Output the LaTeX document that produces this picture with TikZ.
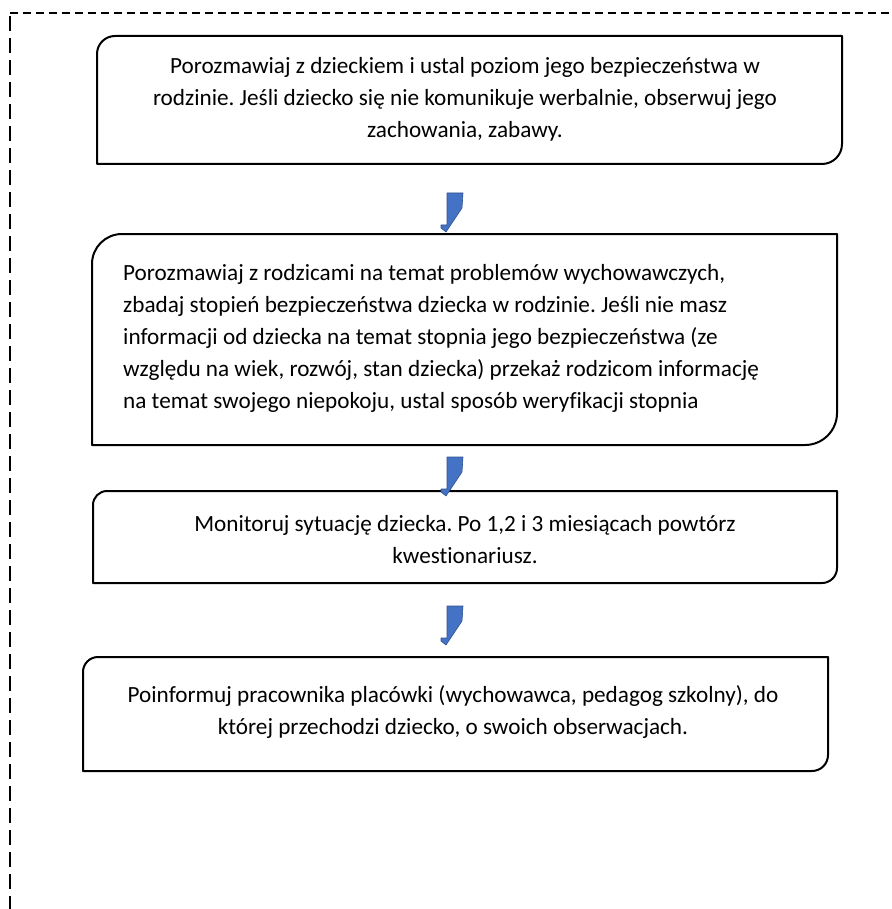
\documentclass[tikz,border=0pt]{standalone}
\usepackage{fontspec}
\setmainfont{Carlito}[Ligatures={NoCommon}]
\begin{document}
\frenchspacing
\begin{tikzpicture}[x=1pt,y=-1pt,
  boxline/.style={line width=2pt, line join=round},
  frameline/.style={line width=2pt},
  txt/.style={font=\fontsize{23.2}{32}\selectfont, inner sep=0pt, anchor=center}]
\useasboundingbox (0,0) rectangle (891,909);
\definecolor{arrowblue}{HTML}{4472C4}
\definecolor{arrowedge}{HTML}{2F528F}
% dashed frame
\draw[frameline, dash pattern=on 8pt off 5pt] (10,13) -- (891,13);
\draw[frameline, dash pattern=on 15pt off 7pt] (10,16) -- (10,909);
% box 1
\draw[boxline] (97,164) -- (97,54) arc[start angle=180,end angle=270,radius=18] -- (842,36) -- (842,144) arc[start angle=0,end angle=90,radius=20] -- cycle;
\node[txt, align=center] (t1) at (465,99) {Porozmawiaj z dzieckiem i ustal poziom jego bezpieczeństwa w\\rodzinie. Jeśli dziecko się nie komunikuje werbalnie, obserwuj jego\\zachowania, zabawy.};
% box 2
\draw[boxline] (92,445) -- (92,264) arc[start angle=180,end angle=270,radius=30] -- (837,234) -- (837,413) arc[start angle=0,end angle=90,radius=32] -- cycle;
\node[txt, align=left, anchor=west] (t2) at (123,338) {Porozmawiaj z rodzicami na temat problemów wychowawczych,\\zbadaj stopień bezpieczeństwa dziecka w rodzinie. Jeśli nie masz\\informacji od dziecka na temat stopnia jego bezpieczeństwa (ze\\względu na wiek, rozwój, stan dziecka) przekaż rodzicom informację\\na temat swojego niepokoju, ustal sposób weryfikacji stopnia};
% box 3
\draw[boxline] (93,583) -- (93,505) arc[start angle=180,end angle=270,radius=14] -- (837,491) -- (837,568) arc[start angle=0,end angle=90,radius=15] -- cycle;
\node[txt, align=center] (t3) at (465,540) {Monitoruj sytuację dziecka. Po 1,2 i 3 miesiącach powtórz\\kwestionariusz.};
% box 4
\draw[boxline] (83,771) -- (83,672) arc[start angle=180,end angle=270,radius=15] -- (828,657) -- (828,755) arc[start angle=0,end angle=90,radius=16] -- cycle;
\node[txt, align=center] (t4) at (453,712) {Poinformuj pracownika placówki (wychowawca, pedagog szkolny), do\\której przechodzi dziecko, o swoich obserwacjach.};
% bent arrows
\foreach \yy/\nm in {193/a1,457/a2,606/a3}{
  \coordinate (\nm) at (0,\yy);
  \fill[arrowblue, draw=arrowedge, line width=0.6pt, line join=round]
    (447,\yy) -- (463,\yy) -- (462,\yy+15) -- (446,\yy+39) -- (441,\yy+35) -- (441,\yy+32) -- (447,\yy+32) -- cycle;
}
\end{tikzpicture}
\end{document}
